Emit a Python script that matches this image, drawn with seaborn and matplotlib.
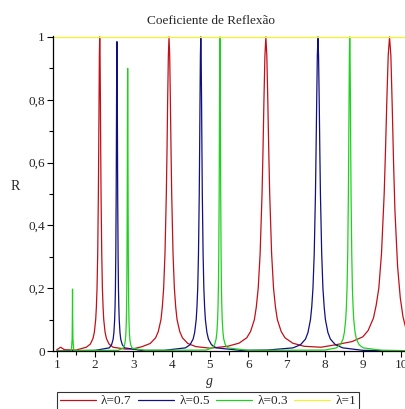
import pandas as pd
import matplotlib.pyplot as plt
from matplotlib.ticker import MultipleLocator, FuncFormatter
import seaborn as sns

# lambda = 0.7
red_g = [1.0, 1.1, 1.2, 1.5,
         1.77, 1.875, 1.945, 1.98, 2.015, 2.033, 2.05, 2.068, 2.085, 2.094, 2.103, 2.111, 2.12,
         2.129, 2.138, 2.146, 2.155, 2.173, 2.19, 2.208, 2.225, 2.26, 2.295, 2.365, 2.47,
         2.8, 3.0,
         3.23, 3.44, 3.58, 3.65, 3.72, 3.755, 3.79, 3.825, 3.86, 3.878, 3.895, 3.913, 3.93,
         3.948, 3.965, 3.983, 4.0, 4.035, 4.07, 4.105, 4.14, 4.21, 4.28, 4.42, 4.63,
         5.0,
         5.46, 5.76, 5.96, 6.06, 6.16, 6.21, 6.26, 6.31, 6.36, 6.385, 6.41, 6.435, 6.46,
         6.485, 6.51, 6.535, 6.56, 6.61, 6.66, 6.71, 6.76, 6.86, 6.96, 7.16, 7.46,
         7.9,
         8.29, 8.71, 8.99, 9.13, 9.27, 9.34, 9.41, 9.48, 9.55, 9.585, 9.62, 9.655, 9.69,
         9.725, 9.76, 9.795, 9.83, 9.9, 9.97, 10.04, 10.11, 10.25]
red_r = [0.004, 0.012, 0.004, 0.003,
         0.012, 0.022, 0.04, 0.06, 0.1, 0.14, 0.2, 0.31, 0.5, 0.64, 0.8, 0.94, 1.0,
         0.94, 0.8, 0.64, 0.5, 0.31, 0.2, 0.14, 0.1, 0.06, 0.04, 0.022, 0.012,
         0.006, 0.007,
         0.014, 0.024, 0.042, 0.062, 0.1, 0.14, 0.2, 0.31, 0.5, 0.64, 0.8, 0.94, 1.0,
         0.94, 0.8, 0.64, 0.5, 0.31, 0.2, 0.14, 0.1, 0.062, 0.042, 0.024, 0.014,
         0.009,
         0.015, 0.025, 0.042, 0.062, 0.1, 0.14, 0.2, 0.31, 0.5, 0.64, 0.8, 0.94, 1.0,
         0.94, 0.8, 0.64, 0.5, 0.31, 0.2, 0.14, 0.1, 0.062, 0.042, 0.025, 0.015,
         0.012,
         0.02, 0.03, 0.045, 0.065, 0.105, 0.145, 0.2, 0.31, 0.5, 0.64, 0.8, 0.94, 1.0,
         0.94, 0.78, 0.6, 0.45, 0.27, 0.17, 0.11, 0.075, 0.045]

# lambda = 0.5
blue_g = [1.0, 2.0,
          2.37, 2.43, 2.47, 2.49, 2.51, 2.52, 2.53, 2.54, 2.55, 2.555, 2.56, 2.565, 2.57,
          2.575, 2.58, 2.585, 2.59, 2.6, 2.61, 2.62, 2.63, 2.65, 2.67, 2.71, 2.77,
          3.2, 3.8,
          4.36, 4.48, 4.56, 4.6, 4.64, 4.66, 4.68, 4.7, 4.72, 4.73, 4.74, 4.75, 4.76,
          4.77, 4.78, 4.79, 4.8, 4.82, 4.84, 4.86, 4.88, 4.92, 4.96, 5.04, 5.16,
          5.8, 6.5,
          7.17, 7.365, 7.495, 7.56, 7.625, 7.658, 7.69, 7.723, 7.755, 7.771, 7.788, 7.804, 7.82,
          7.836, 7.853, 7.869, 7.885, 7.918, 7.95, 7.983, 8.015, 8.08, 8.145, 8.275, 8.47,
          9.0, 10.2]
blue_r = [0.0, 0.002,
          0.01, 0.02, 0.037, 0.058, 0.099, 0.138, 0.197, 0.305, 0.49, 0.63, 0.79, 0.925, 0.985,
          0.925, 0.79, 0.63, 0.49, 0.305, 0.197, 0.138, 0.099, 0.058, 0.037, 0.02, 0.01,
          0.002, 0.002,
          0.01, 0.02, 0.038, 0.059, 0.1, 0.14, 0.2, 0.31, 0.5, 0.64, 0.8, 0.94, 1.0,
          0.94, 0.8, 0.64, 0.5, 0.31, 0.2, 0.14, 0.1, 0.059, 0.038, 0.02, 0.01,
          0.002, 0.003,
          0.01, 0.02, 0.038, 0.059, 0.1, 0.14, 0.2, 0.31, 0.5, 0.64, 0.8, 0.94, 1.0,
          0.94, 0.8, 0.64, 0.5, 0.31, 0.2, 0.14, 0.1, 0.059, 0.038, 0.02, 0.01,
          0.002, 0.001]

# lambda = 0.3
green_g = [1.0, 1.38, 1.40, 1.405, 1.41, 1.415, 1.42, 1.44,
           2.6,
           2.73, 2.766, 2.79, 2.802, 2.814, 2.82, 2.826, 2.832, 2.838, 2.841, 2.844, 2.847, 2.85,
           2.853, 2.856, 2.859, 2.862, 2.868, 2.874, 2.88, 2.886, 2.898, 2.91, 2.934, 2.97,
           3.3, 4.9,
           5.06, 5.12, 5.16, 5.18, 5.2, 5.21, 5.22, 5.23, 5.24, 5.245, 5.25, 5.255, 5.26,
           5.265, 5.27, 5.275, 5.28, 5.29, 5.3, 5.31, 5.32, 5.34, 5.36, 5.4, 5.46,
           6.0, 8.0,
           8.3, 8.405, 8.475, 8.51, 8.545, 8.563, 8.58, 8.598, 8.615, 8.624, 8.633, 8.641, 8.65,
           8.659, 8.668, 8.676, 8.685, 8.703, 8.72, 8.738, 8.755, 8.79, 8.825, 8.895, 9.0,
           9.5, 10.2]
green_r = [0.0, 0.0, 0.04, 0.1, 0.197, 0.1, 0.04, 0.002,
           0.002,
           0.009, 0.018, 0.034, 0.053, 0.09, 0.126, 0.18, 0.279, 0.45, 0.576, 0.72, 0.846, 0.9,
           0.846, 0.72, 0.576, 0.45, 0.279, 0.18, 0.126, 0.09, 0.053, 0.034, 0.018, 0.009,
           0.002, 0.003,
           0.01, 0.02, 0.038, 0.059, 0.1, 0.14, 0.2, 0.31, 0.5, 0.64, 0.8, 0.94, 1.0,
           0.94, 0.8, 0.64, 0.5, 0.31, 0.2, 0.14, 0.1, 0.059, 0.038, 0.02, 0.01,
           0.002, 0.003,
           0.01, 0.02, 0.038, 0.059, 0.1, 0.14, 0.2, 0.31, 0.5, 0.64, 0.8, 0.94, 1.0,
           0.94, 0.8, 0.64, 0.5, 0.31, 0.2, 0.14, 0.1, 0.059, 0.038, 0.02, 0.01,
           0.002, 0.001]

# lambda = 1
yellow_g = [0.9, 10.2]
yellow_r = [1.0, 1.0]

labels = ['λ=0.7', 'λ=0.5', 'λ=0.3', 'λ=1']
colors = ['#c0101a', '#101080', '#20d020', '#f2f230']

frames = []
for lab, g, r in zip(labels, [red_g, blue_g, green_g, yellow_g], [red_r, blue_r, green_r, yellow_r]):
    frames.append(pd.DataFrame({'g': g, 'R': r, 'serie': lab}))
df = pd.concat(frames, ignore_index=True)

sns.set_theme(style='white')
plt.rcParams['font.family'] = ['Liberation Serif', 'DejaVu Serif']

fig = plt.figure(figsize=(4.06, 4.09), dpi=100)
ax = fig.add_axes([53 / 406, 58 / 409, 353 / 406, 315 / 409])

sns.lineplot(data=df, x='g', y='R', hue='serie', hue_order=labels, palette=colors,
             estimator=None, sort=True, linewidth=0.9, ax=ax)

ax.set_xlim(0.9, 10.12)
ax.set_ylim(0, 1.003)
for s in ['top', 'right']:
    ax.spines[s].set_visible(False)
for s in ['left', 'bottom']:
    ax.spines[s].set_color('black')
    ax.spines[s].set_linewidth(0.9)

ax.xaxis.set_major_locator(MultipleLocator(1))
ax.xaxis.set_minor_locator(MultipleLocator(0.5))
ax.yaxis.set_major_locator(MultipleLocator(0.2))
ax.yaxis.set_minor_locator(MultipleLocator(0.1))
ax.yaxis.set_major_formatter(FuncFormatter(lambda v, p: ('%g' % round(v, 1)).replace('.', ',')))
ax.tick_params(axis='both', which='both', bottom=True, left=True, color='black',
               direction='out', labelsize=9.5, pad=2, width=0.8)
ax.tick_params(axis='both', which='major', length=4)
ax.tick_params(axis='both', which='minor', length=3)

ax.set_xlabel('g', fontsize=10, style='italic')
ax.xaxis.set_label_coords(157 / 353, -0.075)
ax.set_ylabel('R', fontsize=10, rotation=0)
ax.yaxis.set_label_coords(-0.108, 0.5)

fig.text(211 / 406, 1 - 21 / 409, 'Coeficiente de Reflexão', ha='center', va='center', fontsize=9.5)

sns.move_legend(ax, 'center', bbox_to_anchor=(208 / 406, 1 - 401 / 409),
                bbox_transform=fig.transFigure, ncol=4, title=None, frameon=True,
                fontsize=9.5, handlelength=2.7, columnspacing=0.5, handletextpad=0.4,
                borderpad=0.2, fancybox=False)
leg = ax.get_legend()
leg.get_frame().set_edgecolor('black')
leg.get_frame().set_linewidth(0.8)

fig.savefig('out.png', dpi=100)
